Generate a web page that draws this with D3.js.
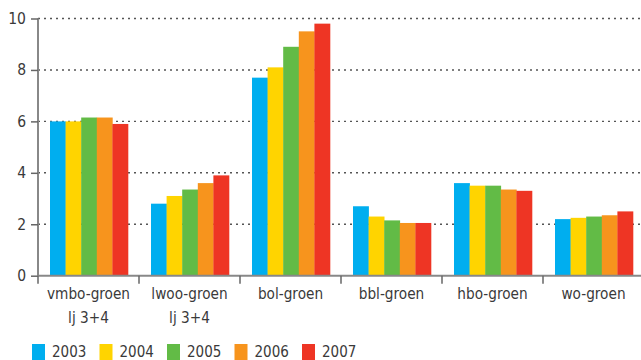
<!DOCTYPE html>
<html>
<head>
<meta charset="utf-8">
<script src="https://cdn.jsdelivr.net/npm/d3@7"></script>
<style>
  html, body { margin: 0; padding: 0; background: #fff; }
  svg { display: block; }
  text { font-family: "DejaVu Sans Condensed", "DejaVu Sans", sans-serif; fill: #3a3a3a; }
</style>
</head>
<body>
<svg id="chart" width="641" height="360"></svg>
<script>
const categories = [["vmbo-groen", "lj 3+4"], ["lwoo-groen", "lj 3+4"], ["bol-groen"], ["bbl-groen"], ["hbo-groen"], ["wo-groen"]];
const years = ["2003", "2004", "2005", "2006", "2007"];
const values2003 = [6.0, 2.8, 7.7, 2.7, 3.6, 2.2];
const values2004 = [6.0, 3.1, 8.1, 2.3, 3.5, 2.25];
const values2005 = [6.15, 3.35, 8.9, 2.15, 3.5, 2.3];
const values2006 = [6.15, 3.6, 9.5, 2.05, 3.35, 2.35];
const values2007 = [5.9, 3.9, 9.8, 2.05, 3.3, 2.5];
const yTicks = [0, 2, 4, 6, 8, 10];
const colors = ["#00AEEF", "#FFD400", "#62BB46", "#F7941D", "#EE3524"];

const series = [values2003, values2004, values2005, values2006, values2007];
const svg = d3.select("#chart");

const plotLeft = 38, plotRight = 644, plotTop = 18.5, plotBottom = 275.7;
const catKeys = categories.map((c, i) => i);

const x = d3.scaleBand().domain(catKeys).range([plotLeft, plotRight]).paddingInner(0).paddingOuter(0);
const xInner = d3.scaleBand().domain(years).range([12, x.bandwidth() - 11]).padding(0);
const y = d3.scaleLinear().domain([0, 10]).range([plotBottom, plotTop]);

// dotted gridlines
svg.append("g")
  .selectAll("line")
  .data(yTicks.filter(d => d > 0))
  .join("line")
  .attr("x1", plotLeft).attr("x2", 641)
  .attr("y1", d => y(d)).attr("y2", d => y(d))
  .attr("stroke", "#555")
  .attr("stroke-width", 1.4)
  .attr("stroke-dasharray", "2,4");

// bars
const groups = svg.append("g")
  .selectAll("g")
  .data(catKeys)
  .join("g")
  .attr("transform", d => `translate(${x(d)},0)`);

groups.selectAll("rect")
  .data(ci => years.map((yr, si) => ({ yr, si, v: series[si][ci] })))
  .join("rect")
  .attr("x", d => xInner(d.yr))
  .attr("width", xInner.bandwidth() + 0.3)
  .attr("y", d => y(d.v))
  .attr("height", d => y(0) - y(d.v))
  .attr("fill", d => colors[d.si]);

// y axis
const yAxis = svg.append("g")
  .attr("transform", `translate(${plotLeft},0)`)
  .call(d3.axisLeft(y).tickValues(yTicks).tickSize(7).tickPadding(5).tickFormat(d3.format("d")));
yAxis.select(".domain").attr("stroke", "#888").attr("stroke-width", 2).attr("d", `M0,${plotTop}V${plotBottom}`);
yAxis.selectAll(".tick line").attr("stroke", "#666").attr("stroke-width", 1.5);
yAxis.selectAll(".tick text").attr("font-size", 15.5).style("fill", "#3a3a3a");

// x axis baseline and category ticks
svg.append("line")
  .attr("x1", plotLeft).attr("x2", 641)
  .attr("y1", plotBottom).attr("y2", plotBottom)
  .attr("stroke", "#888").attr("stroke-width", 2);

svg.append("g")
  .selectAll("line")
  .data(catKeys)
  .join("line")
  .attr("x1", d => x(d)).attr("x2", d => x(d))
  .attr("y1", plotBottom).attr("y2", plotBottom + 8)
  .attr("stroke", "#666").attr("stroke-width", 1.5);

// category labels
const labels = svg.append("g")
  .selectAll("text")
  .data(catKeys)
  .join("text")
  .attr("x", d => x(d) + x.bandwidth() / 2)
  .attr("y", 299)
  .attr("text-anchor", "middle")
  .attr("font-size", 15.2);
labels.selectAll("tspan")
  .data(d => categories[d].map(line => ({ line, cx: x(d) + x.bandwidth() / 2 })))
  .join("tspan")
  .attr("x", d => d.cx)
  .attr("dy", (d, i) => i === 0 ? 0 : 24)
  .text(d => d.line);

// legend
const legend = svg.append("g")
  .selectAll("g")
  .data(years)
  .join("g")
  .attr("transform", (d, i) => `translate(${32 + i * 67.5},344)`);
legend.append("rect")
  .attr("width", 13).attr("height", 16)
  .attr("fill", (d, i) => colors[i]);
legend.append("text")
  .attr("x", 20).attr("y", 13)
  .attr("font-size", 15)
  .text(d => d);
</script>
</body>
</html>
